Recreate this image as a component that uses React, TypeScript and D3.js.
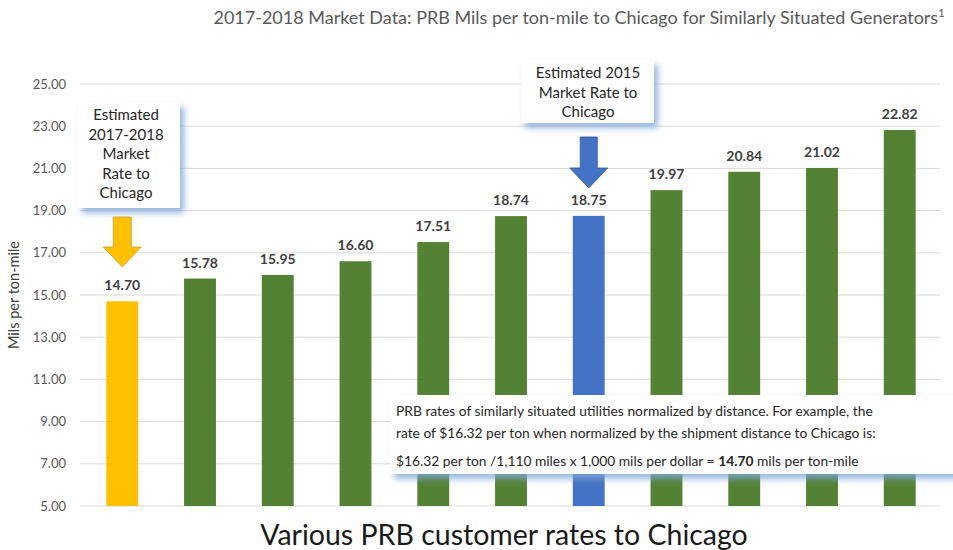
import React from "react";
import * as d3 from "d3";

// values
const customers = ["C1", "C2", "C3", "C4", "C5", "C6", "C7", "C8", "C9", "C10", "C11"];
const rates = [14.7, 15.78, 15.95, 16.6, 17.51, 18.74, 18.75, 19.97, 20.84, 21.02, 22.82];
const kinds = ["est2018", "market", "market", "market", "market", "market", "est2015", "market", "market", "market", "market"];
const yTicks = [5, 7, 9, 11, 13, 15, 17, 19, 21, 23, 25];

const colors: Record<string, string> = {
  est2018: "#FFC000",
  est2015: "#4472C4",
  market: "#548235",
};

const font = "Lato, 'Open Sans', sans-serif";

export default function App() {
  const width = 953;
  const height = 550;
  const margin = { top: 84, right: 14, bottom: 44, left: 83 };

  const x = d3.scaleBand<string>()
    .domain(customers)
    .range([margin.left, width - margin.right])
    .paddingInner(0.59)
    .paddingOuter(0.3);

  const y = d3.scaleLinear()
    .domain([5, 25])
    .range([height - margin.bottom, margin.top]);

  const cx = (i: number) => x(customers[i])! + x.bandwidth() / 2;

  // arrow shape pointing down, centred at 0
  const arrow = (top: number, bottom: number, shaft: number, head: number, headLen: number) => {
    const p = d3.path();
    p.moveTo(-shaft / 2, top);
    p.lineTo(shaft / 2, top);
    p.lineTo(shaft / 2, bottom - headLen);
    p.lineTo(head / 2, bottom - headLen);
    p.lineTo(0, bottom);
    p.lineTo(-head / 2, bottom - headLen);
    p.lineTo(-shaft / 2, bottom - headLen);
    p.closePath();
    return p.toString();
  };

  const i18 = kinds.indexOf("est2018");
  const i15 = kinds.indexOf("est2015");

  return (
    <svg width={width} height={height} style={{ display: "block", position: "absolute", left: 0, top: 0, background: "#fff" }}>
      <defs>
        <filter id="shadow" x="-20%" y="-20%" width="150%" height="150%">
          <feDropShadow dx="4" dy="5" stdDeviation="3" floodColor="#7FA7D8" floodOpacity="0.8" />
        </filter>
      </defs>

      <text x={579} y={24} textAnchor="middle" fontFamily={font} fontSize={18} fill="#595959">
        2017-2018 Market Data: PRB Mils per ton-mile to Chicago for Similarly Situated Generators
        <tspan fontSize={11} dy={-7}>1</tspan>
      </text>

      {/* grid + y axis */}
      <g>
        {yTicks.map(t => (
          <g key={t}>
            <line x1={80} x2={940} y1={y(t)} y2={y(t)} stroke="#D9D9D9" strokeWidth={1} />
            <text x={66} y={y(t)} dy="0.35em" textAnchor="end" fontFamily={font} fontSize={13} fill="#595959">
              {d3.format(".2f")(t)}
            </text>
          </g>
        ))}
      </g>

      <text transform={`translate(19,${(y(5) + y(25)) / 2}) rotate(-90)`} textAnchor="middle" fontFamily={font} fontSize={14.5} fill="#404040">
        Mils per ton-mile
      </text>

      {/* bars */}
      <g>
        {rates.map((v, i) => (
          <g key={customers[i]}>
            <rect x={x(customers[i])} y={y(v)} width={x.bandwidth()} height={y(5) - y(v)} fill={colors[kinds[i]]} />
            <text x={cx(i)} y={y(v) - 11} textAnchor="middle" fontFamily={font} fontWeight="bold" fontSize={14} fill="#404040">
              {d3.format(".2f")(v)}
            </text>
          </g>
        ))}
      </g>

      {/* callout: 2017-2018 estimate */}
      <g filter="url(#shadow)">
        <rect x={78} y={102} width={102} height={106} fill="#fff" />
      </g>
      {["Estimated", "2017-2018", "Market", "Rate to", "Chicago"].map((s, k) => (
        <text key={s} x={126} y={120 + k * 19.6} textAnchor="middle" fontFamily={font} fontSize={15} fill="#262626">{s}</text>
      ))}
      <path transform={`translate(${cx(i18)},0)`} d={arrow(217, 267, 18, 38, 20)} fill={colors.est2018} stroke="#C9A227" strokeWidth={0.8} />

      {/* callout: 2015 estimate */}
      <g filter="url(#shadow)">
        <rect x={521} y={60} width={133} height={63} fill="#fff" />
      </g>
      {["Estimated 2015", "Market Rate to", "Chicago"].map((s, k) => (
        <text key={s} x={588} y={78 + k * 19.6} textAnchor="middle" fontFamily={font} fontSize={15} fill="#262626">{s}</text>
      ))}
      <path transform={`translate(${cx(i15)},0)`} d={arrow(137, 188, 17, 38, 20)} fill={colors.est2015} stroke="#2F5597" strokeWidth={0.8} />

      {/* explanation box */}
      <g filter="url(#shadow)">
        <rect x={390} y={395} width={570} height={79} fill="#fff" />
      </g>
      <g fontFamily={font} fontSize={13.8} fill="#262626">
        <text x={396} y={416}>PRB rates of similarly situated utilities normalized by distance.  For example,  the</text>
        <text x={396} y={438}>rate of $16.32 per ton when normalized by the shipment distance to Chicago is:</text>
        <text x={396} y={466}>
          $16.32 per ton /1,110 miles x 1,000 mils per dollar = <tspan fontWeight="bold">14.70</tspan> mils per ton-mile
        </text>
      </g>

      <text x={504} y={545} textAnchor="middle" fontFamily={font} fontSize={28.5} fill="#1a1a1a">
        Various PRB customer rates to Chicago
      </text>
    </svg>
  );
}
